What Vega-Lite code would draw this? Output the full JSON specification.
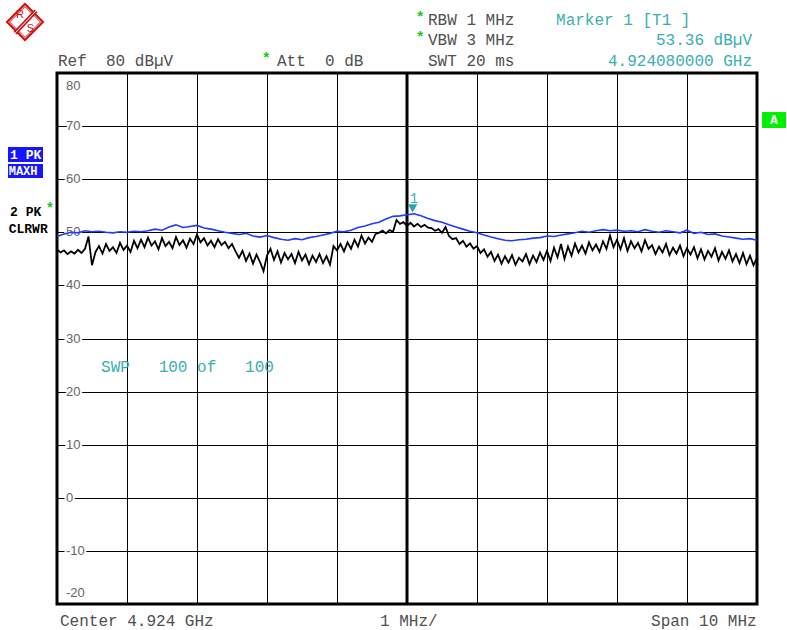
{
  "$schema": "https://vega.github.io/schema/vega-lite/v6.json",
  "width": 700,
  "height": 531,
  "autosize": "none",
  "padding": {"left": 57, "top": 73, "right": 30, "bottom": 26},
  "background": "white",
  "config": {"view": {"stroke": "black", "strokeWidth": 3}, "font": "Liberation Mono"},
  "datasets": {
    "maxh": [
      {"f":-5.0,"db":49.2},{"f":-4.9,"db":49.7},{"f":-4.8,"db":50.0},{"f":-4.7,"db":49.9},{"f":-4.6,"db":50.3},
      {"f":-4.5,"db":50.1},{"f":-4.4,"db":50.2},{"f":-4.3,"db":50.0},{"f":-4.2,"db":49.9},{"f":-4.1,"db":50.1},
      {"f":-4.0,"db":50.0},{"f":-3.9,"db":50.2},{"f":-3.8,"db":50.1},{"f":-3.7,"db":50.3},{"f":-3.6,"db":50.6},
      {"f":-3.5,"db":50.4},{"f":-3.4,"db":51.0},{"f":-3.3,"db":51.4},{"f":-3.2,"db":50.9},{"f":-3.1,"db":51.1},
      {"f":-3.0,"db":51.3},{"f":-2.9,"db":50.8},{"f":-2.8,"db":50.6},{"f":-2.7,"db":50.3},{"f":-2.6,"db":50.0},
      {"f":-2.5,"db":49.8},{"f":-2.4,"db":49.6},{"f":-2.3,"db":49.8},{"f":-2.2,"db":49.3},{"f":-2.1,"db":49.1},
      {"f":-2.0,"db":49.4},{"f":-1.9,"db":49.0},{"f":-1.8,"db":48.7},{"f":-1.7,"db":48.5},{"f":-1.6,"db":48.8},
      {"f":-1.5,"db":48.6},{"f":-1.4,"db":49.0},{"f":-1.3,"db":49.2},{"f":-1.2,"db":49.5},{"f":-1.1,"db":49.8},
      {"f":-1.0,"db":50.2},{"f":-0.9,"db":50.1},{"f":-0.8,"db":50.4},{"f":-0.7,"db":50.9},{"f":-0.6,"db":51.2},
      {"f":-0.5,"db":51.6},{"f":-0.4,"db":51.9},{"f":-0.3,"db":52.5},{"f":-0.2,"db":53.0},{"f":-0.1,"db":53.1},
      {"f":0.0,"db":53.3},{"f":0.1,"db":53.5},{"f":0.2,"db":53.1},{"f":0.3,"db":52.6},{"f":0.4,"db":52.2},
      {"f":0.5,"db":51.9},{"f":0.6,"db":51.4},{"f":0.7,"db":51.0},{"f":0.8,"db":50.6},{"f":0.9,"db":50.2},
      {"f":1.0,"db":49.9},{"f":1.1,"db":49.5},{"f":1.2,"db":49.1},{"f":1.3,"db":48.8},{"f":1.4,"db":48.5},
      {"f":1.5,"db":48.4},{"f":1.6,"db":48.6},{"f":1.7,"db":48.7},{"f":1.8,"db":48.9},{"f":1.9,"db":49.0},
      {"f":2.0,"db":49.3},{"f":2.1,"db":49.2},{"f":2.2,"db":49.5},{"f":2.3,"db":49.7},{"f":2.4,"db":49.9},
      {"f":2.5,"db":50.2},{"f":2.6,"db":50.0},{"f":2.7,"db":50.3},{"f":2.8,"db":50.5},{"f":2.9,"db":50.3},
      {"f":3.0,"db":50.4},{"f":3.1,"db":50.2},{"f":3.2,"db":50.3},{"f":3.3,"db":50.1},{"f":3.4,"db":50.5},
      {"f":3.5,"db":50.2},{"f":3.6,"db":50.0},{"f":3.7,"db":50.3},{"f":3.8,"db":50.1},{"f":3.9,"db":49.9},
      {"f":4.0,"db":50.4},{"f":4.1,"db":49.8},{"f":4.2,"db":50.0},{"f":4.3,"db":49.6},{"f":4.4,"db":49.7},
      {"f":4.5,"db":49.3},{"f":4.6,"db":49.1},{"f":4.7,"db":48.9},{"f":4.8,"db":48.7},{"f":4.9,"db":48.8},
      {"f":5.0,"db":48.5}
    ],
    "clrwr": [
      {"f":-5.00,"db":46.8},{"f":-4.95,"db":46.2},{"f":-4.90,"db":46.6},{"f":-4.85,"db":45.9},{"f":-4.80,"db":46.4},
      {"f":-4.75,"db":46.0},{"f":-4.70,"db":46.7},{"f":-4.65,"db":46.1},{"f":-4.60,"db":46.9},{"f":-4.55,"db":49.2},
      {"f":-4.50,"db":43.8},{"f":-4.45,"db":46.3},{"f":-4.40,"db":47.4},{"f":-4.35,"db":46.0},{"f":-4.30,"db":47.8},
      {"f":-4.25,"db":46.5},{"f":-4.20,"db":47.2},{"f":-4.15,"db":46.1},{"f":-4.10,"db":48.0},{"f":-4.05,"db":46.7},
      {"f":-4.00,"db":47.5},{"f":-3.95,"db":46.3},{"f":-3.90,"db":48.4},{"f":-3.85,"db":47.0},{"f":-3.80,"db":48.6},
      {"f":-3.75,"db":47.2},{"f":-3.70,"db":49.0},{"f":-3.65,"db":47.5},{"f":-3.60,"db":48.3},{"f":-3.55,"db":46.8},
      {"f":-3.50,"db":48.9},{"f":-3.45,"db":47.4},{"f":-3.40,"db":48.2},{"f":-3.35,"db":47.0},{"f":-3.30,"db":49.1},
      {"f":-3.25,"db":47.6},{"f":-3.20,"db":48.5},{"f":-3.15,"db":47.1},{"f":-3.10,"db":48.8},{"f":-3.05,"db":47.8},
      {"f":-3.00,"db":49.6},{"f":-2.95,"db":48.1},{"f":-2.90,"db":48.9},{"f":-2.85,"db":47.5},{"f":-2.80,"db":48.4},
      {"f":-2.75,"db":47.2},{"f":-2.70,"db":48.7},{"f":-2.65,"db":47.6},{"f":-2.60,"db":48.2},{"f":-2.55,"db":47.0},
      {"f":-2.50,"db":47.8},{"f":-2.45,"db":46.4},{"f":-2.40,"db":45.2},{"f":-2.35,"db":46.5},{"f":-2.30,"db":44.6},
      {"f":-2.25,"db":46.0},{"f":-2.20,"db":44.1},{"f":-2.15,"db":45.8},{"f":-2.10,"db":44.4},{"f":-2.05,"db":42.7},
      {"f":-2.00,"db":45.6},{"f":-1.95,"db":46.9},{"f":-1.90,"db":44.8},{"f":-1.85,"db":46.4},{"f":-1.80,"db":44.3},
      {"f":-1.75,"db":46.1},{"f":-1.70,"db":44.9},{"f":-1.65,"db":45.9},{"f":-1.60,"db":44.2},{"f":-1.55,"db":46.3},
      {"f":-1.50,"db":44.7},{"f":-1.45,"db":45.8},{"f":-1.40,"db":44.0},{"f":-1.35,"db":45.6},{"f":-1.30,"db":44.4},
      {"f":-1.25,"db":45.9},{"f":-1.20,"db":44.2},{"f":-1.15,"db":45.5},{"f":-1.10,"db":43.9},{"f":-1.05,"db":47.4},
      {"f":-1.00,"db":46.6},{"f":-0.95,"db":47.8},{"f":-0.90,"db":46.4},{"f":-0.85,"db":48.1},{"f":-0.80,"db":46.9},
      {"f":-0.75,"db":48.6},{"f":-0.70,"db":47.3},{"f":-0.65,"db":49.4},{"f":-0.60,"db":47.9},{"f":-0.55,"db":49.0},
      {"f":-0.50,"db":48.2},{"f":-0.45,"db":49.7},{"f":-0.40,"db":49.9},{"f":-0.35,"db":50.3},{"f":-0.30,"db":49.8},
      {"f":-0.25,"db":50.4},{"f":-0.20,"db":50.1},{"f":-0.15,"db":52.3},{"f":-0.10,"db":51.6},{"f":-0.05,"db":51.9},
      {"f":0.00,"db":51.2},{"f":0.05,"db":51.8},{"f":0.10,"db":51.1},{"f":0.15,"db":51.6},{"f":0.20,"db":51.0},
      {"f":0.25,"db":51.4},{"f":0.30,"db":50.9},{"f":0.35,"db":50.8},{"f":0.40,"db":50.3},{"f":0.45,"db":50.6},
      {"f":0.50,"db":49.9},{"f":0.55,"db":51.0},{"f":0.60,"db":49.3},{"f":0.65,"db":48.7},{"f":0.70,"db":48.9},
      {"f":0.75,"db":47.8},{"f":0.80,"db":48.4},{"f":0.85,"db":47.3},{"f":0.90,"db":47.9},{"f":0.95,"db":46.9},
      {"f":1.00,"db":47.4},{"f":1.05,"db":46.1},{"f":1.10,"db":46.8},{"f":1.15,"db":45.4},{"f":1.20,"db":46.3},
      {"f":1.25,"db":44.6},{"f":1.30,"db":45.8},{"f":1.35,"db":44.1},{"f":1.40,"db":45.5},{"f":1.45,"db":44.3},
      {"f":1.50,"db":45.7},{"f":1.55,"db":43.9},{"f":1.60,"db":45.2},{"f":1.65,"db":44.5},{"f":1.70,"db":45.9},
      {"f":1.75,"db":44.0},{"f":1.80,"db":45.6},{"f":1.85,"db":44.4},{"f":1.90,"db":46.2},{"f":1.95,"db":44.8},
      {"f":2.00,"db":46.5},{"f":2.05,"db":44.6},{"f":2.10,"db":47.1},{"f":2.15,"db":45.3},{"f":2.20,"db":47.8},
      {"f":2.25,"db":45.0},{"f":2.30,"db":47.3},{"f":2.35,"db":45.6},{"f":2.40,"db":47.9},{"f":2.45,"db":46.2},
      {"f":2.50,"db":47.5},{"f":2.55,"db":46.0},{"f":2.60,"db":48.1},{"f":2.65,"db":46.6},{"f":2.70,"db":47.7},
      {"f":2.75,"db":46.3},{"f":2.80,"db":48.3},{"f":2.85,"db":46.9},{"f":2.90,"db":49.4},{"f":2.95,"db":47.2},
      {"f":3.00,"db":48.6},{"f":3.05,"db":46.8},{"f":3.10,"db":48.9},{"f":3.15,"db":46.5},{"f":3.20,"db":48.3},
      {"f":3.25,"db":47.0},{"f":3.30,"db":48.0},{"f":3.35,"db":46.4},{"f":3.40,"db":48.5},{"f":3.45,"db":46.9},
      {"f":3.50,"db":47.6},{"f":3.55,"db":45.9},{"f":3.60,"db":47.3},{"f":3.65,"db":46.2},{"f":3.70,"db":47.8},
      {"f":3.75,"db":45.7},{"f":3.80,"db":47.1},{"f":3.85,"db":46.0},{"f":3.90,"db":47.5},{"f":3.95,"db":45.5},
      {"f":4.00,"db":47.0},{"f":4.05,"db":45.8},{"f":4.10,"db":47.2},{"f":4.15,"db":45.1},{"f":4.20,"db":46.8},
      {"f":4.25,"db":44.9},{"f":4.30,"db":46.5},{"f":4.35,"db":45.4},{"f":4.40,"db":47.0},{"f":4.45,"db":44.7},
      {"f":4.50,"db":46.3},{"f":4.55,"db":45.0},{"f":4.60,"db":46.6},{"f":4.65,"db":44.5},{"f":4.70,"db":45.9},
      {"f":4.75,"db":44.2},{"f":4.80,"db":46.1},{"f":4.85,"db":44.0},{"f":4.90,"db":45.6},{"f":4.95,"db":43.8},
      {"f":5.00,"db":45.2}
    ],
    "ylab": [
      {"v":70,"t":"70"},{"v":60,"t":"60"},{"v":50,"t":"50"},{"v":40,"t":"40"},{"v":30,"t":"30"},
      {"v":20,"t":"20"},{"v":10,"t":"10"},{"v":0,"t":"0"},{"v":-10,"t":"-10"}
    ]
  },
  "layer": [
    {
      "data": {"name": "clrwr"},
      "mark": {"type": "line", "opacity": 0},
      "encoding": {
        "x": {"field": "f", "type": "quantitative",
              "scale": {"domain": [-5, 5], "nice": false, "zero": false},
              "axis": {"values": [-5,-4,-3,-2,-1,0,1,2,3,4,5], "grid": true, "gridColor": "black", "gridOpacity": 1, "gridWidth": 1,
                       "labels": false, "ticks": false, "domain": false, "title": null}},
        "y": {"field": "db", "type": "quantitative",
              "scale": {"domain": [-20, 80], "nice": false, "zero": false},
              "axis": {"values": [-20,-10,0,10,20,30,40,50,60,70,80], "grid": true, "gridColor": "black", "gridOpacity": 1, "gridWidth": 1,
                       "labels": false, "ticks": false, "domain": false, "title": null}}
      }
    },
    {
      "data": {"values": [{}]},
      "mark": {"type": "rule", "color": "black", "strokeWidth": 3},
      "encoding": {"x": {"datum": 0}}
    },
    {
      "data": {"name": "ylab"},
      "mark": {"type": "text", "align": "left", "baseline": "middle", "dx": 9, "font": "Liberation Sans", "fontSize": 13, "fill": "white", "stroke": "white", "strokeWidth": 4},
      "encoding": {"x": {"datum": -5}, "y": {"field": "v", "type": "quantitative"}, "text": {"field": "t"}}
    },
    {
      "data": {"name": "ylab"},
      "mark": {"type": "text", "align": "left", "baseline": "middle", "dx": 9, "font": "Liberation Sans", "fontSize": 13, "fill": "#666666"},
      "encoding": {"x": {"datum": -5}, "y": {"field": "v", "type": "quantitative"}, "text": {"field": "t"}}
    },
    {
      "data": {"values": [{}]},
      "mark": {"type": "text", "text": "80", "align": "left", "baseline": "middle", "dx": 9, "dy": 13, "font": "Liberation Sans", "fontSize": 13, "fill": "#666666"},
      "encoding": {"x": {"datum": -5}, "y": {"datum": 80}}
    },
    {
      "data": {"values": [{}]},
      "mark": {"type": "text", "text": "-20", "align": "left", "baseline": "middle", "dx": 9, "dy": -11, "font": "Liberation Sans", "fontSize": 13, "fill": "#666666"},
      "encoding": {"x": {"datum": -5}, "y": {"datum": -20}}
    },
    {
      "data": {"name": "clrwr"},
      "mark": {"type": "line", "color": "black", "strokeWidth": 1.8},
      "encoding": {"x": {"field": "f", "type": "quantitative"}, "y": {"field": "db", "type": "quantitative"}}
    },
    {
      "data": {"name": "maxh"},
      "mark": {"type": "line", "color": "#1c3cff", "strokeWidth": 1.6},
      "encoding": {"x": {"field": "f", "type": "quantitative"}, "y": {"field": "db", "type": "quantitative"}}
    },
    {
      "data": {"values": [{}]},
      "mark": {"type": "point", "shape": "triangle-down", "filled": true, "color": "#2aa6a8", "size": 90, "opacity": 1},
      "encoding": {"x": {"datum": 0.08}, "y": {"datum": 54.5}}
    },
    {
      "data": {"values": [{}]},
      "mark": {"type": "text", "text": "1", "align": "center", "baseline": "middle", "fontSize": 14, "fill": "#3aaeb0"},
      "encoding": {"x": {"datum": 0.1}, "y": {"datum": 56.3}}
    },
    {
      "data": {"values": [{}]},
      "mark": {"type": "text", "text": "SWP\u00a0\u00a0\u00a0100 of\u00a0\u00a0\u00a0100", "align": "left", "baseline": "middle", "fontSize": 16, "fill": "#3aaeb0"},
      "encoding": {"x": {"datum": -4.371}, "y": {"datum": 24.63}}
    },
    {
      "data": {"values": [{}]},
      "mark": {"type": "text", "text": "Ref\u00a0\u00a080 dB\u00b5V", "align": "left", "baseline": "middle", "fontSize": 16, "fill": "#505050"},
      "encoding": {"x": {"datum": -4.986}, "y": {"datum": 82.26}}
    },
    {
      "data": {"values": [{}]},
      "mark": {"type": "text", "text": "Att\u00a0\u00a00 dB", "align": "left", "baseline": "middle", "fontSize": 16, "fill": "#505050"},
      "encoding": {"x": {"datum": -1.857}, "y": {"datum": 82.26}}
    },
    {
      "data": {"values": [{}]},
      "mark": {"type": "text", "text": "RBW 1 MHz", "align": "left", "baseline": "middle", "fontSize": 16, "fill": "#505050"},
      "encoding": {"x": {"datum": 0.3}, "y": {"datum": 89.98}}
    },
    {
      "data": {"values": [{}]},
      "mark": {"type": "text", "text": "VBW 3 MHz", "align": "left", "baseline": "middle", "fontSize": 16, "fill": "#505050"},
      "encoding": {"x": {"datum": 0.3}, "y": {"datum": 86.21}}
    },
    {
      "data": {"values": [{}]},
      "mark": {"type": "text", "text": "SWT 20 ms", "align": "left", "baseline": "middle", "fontSize": 16, "fill": "#505050"},
      "encoding": {"x": {"datum": 0.3}, "y": {"datum": 82.26}}
    },
    {
      "data": {"values": [{}]},
      "mark": {"type": "text", "text": "*", "align": "center", "baseline": "middle", "fontSize": 15, "fontWeight": "bold", "fill": "#11cc11"},
      "encoding": {"x": {"datum": -2.01}, "y": {"datum": 82.9}}
    },
    {
      "data": {"values": [{}]},
      "mark": {"type": "text", "text": "*", "align": "center", "baseline": "middle", "fontSize": 15, "fontWeight": "bold", "fill": "#11cc11"},
      "encoding": {"x": {"datum": 0.19}, "y": {"datum": 90.6}}
    },
    {
      "data": {"values": [{}]},
      "mark": {"type": "text", "text": "*", "align": "center", "baseline": "middle", "fontSize": 15, "fontWeight": "bold", "fill": "#11cc11"},
      "encoding": {"x": {"datum": 0.19}, "y": {"datum": 86.8}}
    },
    {
      "data": {"values": [{}]},
      "mark": {"type": "text", "text": "Marker 1 [T1 ]", "align": "left", "baseline": "middle", "fontSize": 16, "fill": "#3aaeb0"},
      "encoding": {"x": {"datum": 2.129}, "y": {"datum": 89.98}}
    },
    {
      "data": {"values": [{}]},
      "mark": {"type": "text", "text": "53.36 dB\u00b5V", "align": "right", "baseline": "middle", "fontSize": 16, "fill": "#3aaeb0"},
      "encoding": {"x": {"datum": 4.929}, "y": {"datum": 86.21}}
    },
    {
      "data": {"values": [{}]},
      "mark": {"type": "text", "text": "4.924080000 GHz", "align": "right", "baseline": "middle", "fontSize": 16, "fill": "#3aaeb0"},
      "encoding": {"x": {"datum": 4.929}, "y": {"datum": 82.26}}
    },
    {
      "data": {"values": [{}]},
      "mark": {"type": "text", "text": "Center 4.924 GHz", "align": "left", "baseline": "middle", "fontSize": 16, "fill": "#505050"},
      "encoding": {"x": {"datum": -4.957}, "y": {"datum": -23.2}}
    },
    {
      "data": {"values": [{}]},
      "mark": {"type": "text", "text": "1 MHz/", "align": "left", "baseline": "middle", "fontSize": 16, "fill": "#505050"},
      "encoding": {"x": {"datum": -0.386}, "y": {"datum": -23.2}}
    },
    {
      "data": {"values": [{}]},
      "mark": {"type": "text", "text": "Span 10 MHz", "align": "right", "baseline": "middle", "fontSize": 16, "fill": "#505050"},
      "encoding": {"x": {"datum": 4.995}, "y": {"datum": -23.2}}
    },
    {
      "data": {"values": [{}]},
      "mark": {"type": "rect", "color": "#1515ff"},
      "encoding": {"x": {"datum": -5.7}, "x2": {"datum": -5.2}, "y": {"datum": 66.06}, "y2": {"datum": 63.24}}
    },
    {
      "data": {"values": [{}]},
      "mark": {"type": "rect", "color": "#1515ff"},
      "encoding": {"x": {"datum": -5.7}, "x2": {"datum": -5.2}, "y": {"datum": 62.86}, "y2": {"datum": 60.23}}
    },
    {
      "data": {"values": [{}]},
      "mark": {"type": "text", "text": "1 PK", "align": "left", "baseline": "middle", "fontSize": 13, "fontWeight": "bold", "fill": "white"},
      "encoding": {"x": {"datum": -5.67}, "y": {"datum": 64.6}}
    },
    {
      "data": {"values": [{}]},
      "mark": {"type": "text", "text": "MAXH", "align": "left", "baseline": "middle", "fontSize": 12, "fontWeight": "bold", "fill": "white"},
      "encoding": {"x": {"datum": -5.69}, "y": {"datum": 61.5}}
    },
    {
      "data": {"values": [{}]},
      "mark": {"type": "text", "text": "2 PK", "align": "left", "baseline": "middle", "fontSize": 13, "fontWeight": "bold", "fill": "black"},
      "encoding": {"x": {"datum": -5.67}, "y": {"datum": 53.8}}
    },
    {
      "data": {"values": [{}]},
      "mark": {"type": "text", "text": "*", "align": "center", "baseline": "middle", "fontSize": 14, "fontWeight": "bold", "fill": "#11cc11"},
      "encoding": {"x": {"datum": -5.1}, "y": {"datum": 54.4}}
    },
    {
      "data": {"values": [{}]},
      "mark": {"type": "text", "text": "CLRWR", "align": "left", "baseline": "middle", "fontSize": 13, "fontWeight": "bold", "fill": "black"},
      "encoding": {"x": {"datum": -5.69}, "y": {"datum": 50.6}}
    },
    {
      "data": {"values": [{}]},
      "mark": {"type": "rect", "color": "#00ee00"},
      "encoding": {"x": {"datum": 5.071}, "x2": {"datum": 5.414}, "y": {"datum": 72.65}, "y2": {"datum": 69.64}}
    },
    {
      "data": {"values": [{}]},
      "mark": {"type": "text", "text": "A", "align": "center", "baseline": "middle", "fontSize": 13, "fontWeight": "bold", "fill": "white"},
      "encoding": {"x": {"datum": 5.243}, "y": {"datum": 71.1}}
    },
    {
      "data": {"values": [{}]},
      "mark": {"type": "point", "shape": "diamond", "filled": false, "color": "#d01010", "strokeWidth": 2, "size": 1296, "opacity": 1},
      "encoding": {"x": {"datum": -5.457}, "y": {"datum": 89.6}}
    },
    {
      "data": {"values": [{}]},
      "mark": {"type": "point", "shape": "diamond", "filled": false, "color": "#d01010", "strokeWidth": 1, "size": 950, "opacity": 1},
      "encoding": {"x": {"datum": -5.457}, "y": {"datum": 89.6}}
    },
    {
      "data": {"values": [{}]},
      "mark": {"type": "rule", "color": "#d01010", "strokeWidth": 4},
      "encoding": {"x": {"datum": -5.6}, "y": {"datum": 87.5}, "x2": {"datum": -5.3}, "y2": {"datum": 91.7}}
    },
    {
      "data": {"values": [{}]},
      "mark": {"type": "rule", "color": "white", "strokeWidth": 1},
      "encoding": {"x": {"datum": -5.6}, "y": {"datum": 87.5}, "x2": {"datum": -5.3}, "y2": {"datum": 91.7}}
    },
    {
      "data": {"values": [{}]},
      "mark": {"type": "text", "text": "R", "align": "center", "baseline": "middle", "font": "Liberation Sans", "fontSize": 11, "fill": "#d01010"},
      "encoding": {"x": {"datum": -5.53}, "y": {"datum": 90.9}}
    },
    {
      "data": {"values": [{}]},
      "mark": {"type": "text", "text": "S", "align": "center", "baseline": "middle", "font": "Liberation Sans", "fontSize": 11, "fill": "#d01010"},
      "encoding": {"x": {"datum": -5.38}, "y": {"datum": 88.2}}
    }
  ]
}
